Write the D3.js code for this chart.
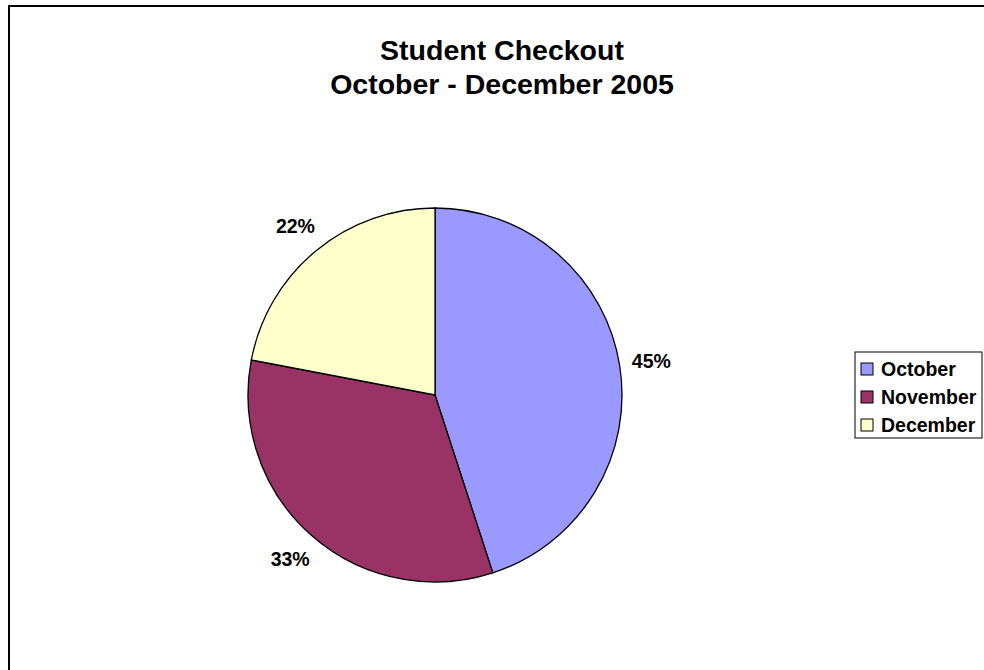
<!DOCTYPE html>
<html>
<head>
<meta charset="utf-8">
<script src="https://cdn.jsdelivr.net/npm/d3@7"></script>
<style>
  html, body { margin: 0; padding: 0; background: #fff; }
  svg { display: block; }
  text { font-family: "Liberation Sans", Arial, sans-serif; font-weight: bold; fill: #000; }
</style>
</head>
<body>
<svg id="chart" width="984" height="670"></svg>
<script>
const categories = ["October", "November", "December"];
const values = [45, 33, 22];
const colors = ["#9999FF", "#993366", "#FFFFCC"];
const titleLines = ["Student Checkout", "October - December 2005"];

const svg = d3.select("#chart");

// chart area border (extends beyond right/bottom of view)
svg.append("rect")
  .attr("x", 9).attr("y", 6)
  .attr("width", 1000).attr("height", 700)
  .attr("fill", "#fff").attr("stroke", "#000").attr("stroke-width", 2);

// title
svg.append("g").selectAll("text").data(titleLines).join("text")
  .attr("x", 502)
  .attr("y", (d, i) => 60 + i * 34)
  .attr("text-anchor", "middle")
  .style("font-size", "28.5px")
  .text(d => d);

const cx = 435, cy = 395, r = 187;
const pie = d3.pie().sort(null).value(d => d.v);
const arcs = pie(categories.map((c, i) => ({ c, v: values[i], col: colors[i] })));
const arc = d3.arc().innerRadius(0).outerRadius(r);
const labelArc = d3.arc().innerRadius(r + 32).outerRadius(r + 32);

const g = svg.append("g").attr("transform", `translate(${cx},${cy})`);
g.selectAll("path").data(arcs).join("path")
  .attr("d", arc)
  .attr("fill", d => d.data.col)
  .attr("stroke", "#000")
  .attr("stroke-width", 1.3);

const total = d3.sum(values);
g.selectAll("text.lbl").data(arcs).join("text")
  .attr("class", "lbl")
  .attr("transform", d => `translate(${labelArc.centroid(d)})`)
  .attr("text-anchor", "middle")
  .attr("dy", "0.35em")
  .style("font-size", "19.5px")
  .text(d => d3.format(".0%")(d.data.v / total));

// legend
const lx = 855, ly = 352, lw = 127, lh = 86;
const lg = svg.append("g");
lg.append("rect")
  .attr("x", lx).attr("y", ly).attr("width", lw).attr("height", lh)
  .attr("fill", "#fff").attr("stroke", "#000").attr("stroke-width", 1);
const rows = lg.selectAll("g.row").data(categories).join("g")
  .attr("class", "row")
  .attr("transform", (d, i) => `translate(${lx + 6},${ly + 17 + i * 28})`);
rows.append("rect")
  .attr("x", 0).attr("y", -6).attr("width", 12).attr("height", 12)
  .attr("fill", (d, i) => colors[i]).attr("stroke", "#000").attr("stroke-width", 1);
rows.append("text")
  .attr("x", 20).attr("dy", "0.36em")
  .style("font-size", "19.5px")
  .text(d => d);
</script>
</body>
</html>
